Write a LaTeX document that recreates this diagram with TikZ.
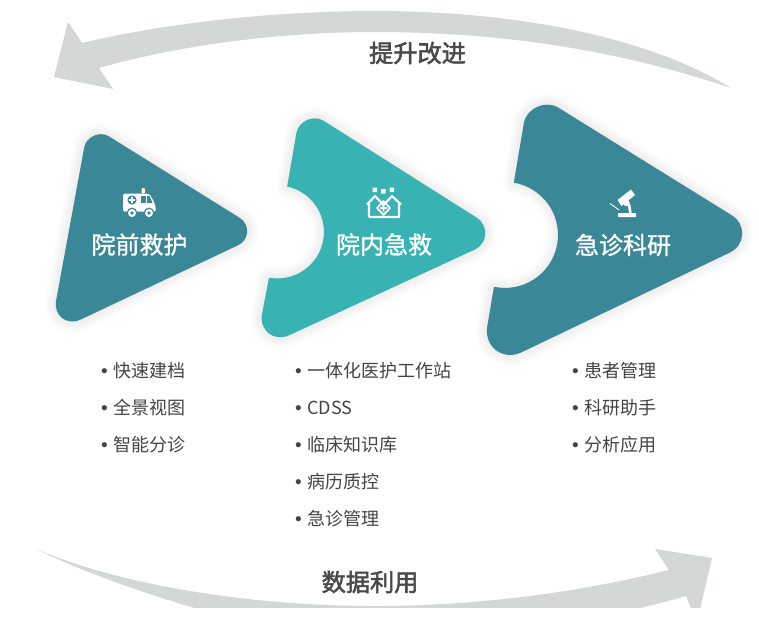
\documentclass[tikz,border=0pt]{standalone}
\usepackage{fontspec}
\usetikzlibrary{calc}
\newfontfamily\cjk{Noto Sans CJK SC}
\newfontfamily\cjkmid[FakeBold=1.2]{Noto Sans CJK SC}
\newfontfamily\cjkhead[FakeBold=2.2]{Noto Sans CJK SC}
\newfontfamily\latin{Liberation Sans}
\definecolor{tealdark}{HTML}{3A8797}
\definecolor{teallight}{HTML}{38B2B2}
\definecolor{arrowgrey}{HTML}{D3D7D6}
\definecolor{labelgrey}{HTML}{4A4A4A}
\definecolor{listgrey}{HTML}{444444}
% rounded corner: previous point, vertex, next point, tangent length
\newcommand{\rc}[4]{-- ($(#2)!#4pt!(#1)$) .. controls ($(#2)!#4*0.55pt!(#1)$) and ($(#2)!#4*0.55pt!(#3)$) .. ($(#2)!#4pt!(#3)$)}
\newcommand{\softshadow}[1]{%
  \foreach \w in {2,6,10,14,18,22}{
    \path[shift={(5,11)},fill=black,draw=black,fill opacity=.011,draw opacity=.011,line width=\w pt,line join=round] #1 -- cycle;
  }}
\tikzset{
  arrowshape/.style={fill=arrowgrey},
  arrowlabel/.style={font=\cjkhead\fontsize{24.2}{28}\selectfont,text=labelgrey,inner sep=0pt},
  titlelabel/.style={font=\cjkmid\fontsize{24}{28}\selectfont,text=white,inner sep=0pt},
  listitem/.style={font=\cjk\fontsize{18}{22}\selectfont,text=listgrey,anchor=west,inner sep=0pt},
  iconline/.style={draw=white,line width=2.2pt,line join=round,fill=none}
}
\newcommand{\itm}[1]{\makebox[12pt][l]{{\latin\fontsize{19}{19}\selectfont •}}#1}
\begin{document}
\begin{tikzpicture}[x=1pt,y=1pt,yscale=-1]
\useasboundingbox (0,0) rectangle (759,624);
\fill[white] (0,0) rectangle (759,624);

% top arrow
\fill[arrowshape] (731,88) .. controls (640,32) and (500,11) .. (375,11)
  .. controls (280,11) and (170,22) .. (82,43)
  -- (68,22) -- (54,77) -- (113,89) -- (99,68)
  .. controls (180,45) and (280,32) .. (375,32)
  .. controls (480,32) and (600,44) .. (731,88) -- cycle;
\node[arrowlabel] (up) at (417.5,53) {提升改进};

% bottom arrow
\begin{scope}
\clip (0,0) rectangle (759,607);
\fill[arrowshape] (36,549) .. controls (120,585) and (250,606) .. (374,606)
  .. controls (480,606) and (580,592) .. (669,570)
  -- (655,549) -- (712,558) -- (697,622) -- (686,596)
  .. controls (620,615) and (500,640) .. (374,640)
  .. controls (280,640) and (120,590) .. (36,549) -- cycle;
\end{scope}
\node[arrowlabel] (down) at (370,582) {数据利用};

% triangle A
\coordinate (a1) at (88.6,123.7);
\coordinate (a2) at (264,233);
\coordinate (a3) at (50,334);
\def\triA{($(a1)!24pt!(a3)$) \rc{a3}{a1}{a2}{24} \rc{a1}{a2}{a3}{29} \rc{a2}{a3}{a1}{34}}
\softshadow{\triA}
\fill[tealdark] \triA -- cycle;

% triangle B
\coordinate (b1) at (301,106.5);
\coordinate (b2) at (505,235.6);
\coordinate (b3) at (255,351);
\coordinate (bn) at (269,277.7);
\coordinate (bm) at (287.2,186.5);
\def\triB{(bm) \rc{bm}{b1}{b2}{27} \rc{b1}{b2}{b3}{34} \rc{b2}{b3}{bn}{38} -- (bn) arc[start angle=100.5,end angle=-78,radius=46.5pt]}
\softshadow{\triB}
\fill[teallight] \triB -- cycle;

% triangle C
\coordinate (c1) at (529.5,89.8);
\coordinate (c2) at (764.8,235.8);
\coordinate (c3) at (479.5,372.4);
\coordinate (cn) at (494,286.8);
\coordinate (cm) at (513.8,182.7);
\def\triC{(cm) \rc{cm}{c1}{c2}{34} \rc{c1}{c2}{c3}{39} \rc{c2}{c3}{cn}{47} -- (cn) arc[start angle=102,end angle=-80.4,radius=53pt]}
\softshadow{\triC}
\fill[tealdark] \triC -- cycle;

% ambulance icon
\fill[white,rounded corners=1.5pt] (123,193.5) -- (146,193.5) -- (150,194.5) -- (155,204) -- (156,211.5) -- (123,211.5) -- cycle;
\fill[white,rounded corners=1pt] (141.5,188) rectangle (145,193.6);
\fill[tealdark] (132,200) circle (4.6pt);
\fill[white] (131.2,196.8) rectangle (132.8,203.2) (128.8,199.2) rectangle (135.2,200.8);
\fill[tealdark] (141.3,196) rectangle (146,203);
\fill[tealdark] (147.2,196) -- (149.5,196) -- (152.5,203) -- (147.2,203) -- cycle;
\foreach \p in {(132,213),(149,213)}{
  \fill[tealdark] \p circle (5.4pt);
  \fill[white] \p circle (4pt);
  \fill[tealdark] \p circle (1.8pt);
}

% hospital icon
\fill[white] (372.5,187.5) rectangle (377,192) (381,189) rectangle (385.5,193.5) (389.5,187.5) rectangle (394,192);
\draw[iconline] (369,217) -- (369,204) (399,204) -- (399,217) -- (369,217)
  (367,204.5) -- (375,196) -- (383.5,205) -- (392,196) -- (401,204.5);
\draw[white,line width=1.7pt,line join=round] (383.5,201) -- (390,208) -- (383.5,215) -- (377,208) -- cycle;
\fill[white] (382.6,204.5) rectangle (384.4,211.5) (380,207.1) rectangle (387,208.9);

% microscope icon
\fill[white] (617.5,200) -- (631,189.5) -- (635,195) -- (621.5,206) -- cycle;
\draw[white,line width=.9pt] (610,203.5) -- (619,210);
\fill[white] (626.5,203) circle (3.2pt);
\draw[white,line width=2.6pt] (629,204) -- (630.5,214);
\fill[white,rounded corners=.6pt] (618,213.2) rectangle (636,217);

% titles
\node[titlelabel] (ta) at (139.5,244.5) {院前救护};
\node[titlelabel] (tb) at (384,244.5) {院内急救};
\node[titlelabel] (tc) at (623,245) {急诊科研};

% lists
\node[listitem] (a-i) at (101,371) {\itm{快速建档}};
\node[listitem] (a-ii) at (101,408) {\itm{全景视图}};
\node[listitem] (a-iii) at (101,445) {\itm{智能分诊}};
\node[listitem] (b-i) at (295,371) {\itm{一体化医护工作站}};
\node[listitem] (b-ii) at (295,408) {\itm{CDSS}};
\node[listitem] (b-iii) at (295,445) {\itm{临床知识库}};
\node[listitem] (b-iv) at (295,482) {\itm{病历质控}};
\node[listitem] (b-v) at (295,519) {\itm{急诊管理}};
\node[listitem] (c-i) at (572,371) {\itm{患者管理}};
\node[listitem] (c-ii) at (572,408) {\itm{科研助手}};
\node[listitem] (c-iii) at (572,445) {\itm{分析应用}};
\end{tikzpicture}
\end{document}
